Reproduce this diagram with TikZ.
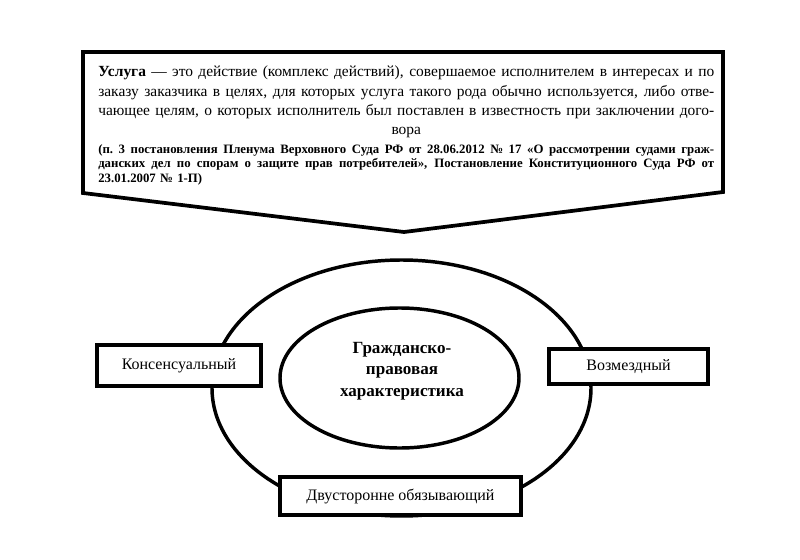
\documentclass[tikz,border=0pt]{standalone}
\usepackage{fontspec}
\setmainfont{Liberation Serif}
\usetikzlibrary{shapes.geometric}
\newcommand\pxu{0.75pt}
\newcommand\fullline[1]{\leavevmode{\spaceskip=0.25em plus 1fil minus 0.06em\xspaceskip=\spaceskip\hbox to\linewidth{#1}}}
\tikzset{
  x=0.75pt, y=-0.75pt,
  thickline/.style={line width=2.8pt, line join=miter},
  ring/.style={ellipse, draw, line width=2.6pt, inner sep=0pt},
  labelbox/.style={rectangle, draw, fill=white, line width=2.8pt, inner sep=0pt,
    font=\fontsize{12}{14}\selectfont},
  deftext/.style={anchor=north west, inner sep=0pt, text width=462pt, align=left},
}
\begin{document}
\begin{tikzpicture}
\useasboundingbox (0,0) rectangle (800,560);
% arrow-shaped definition box
\coordinate (tl) at (83,52);
\coordinate (tr) at (723,52);
\coordinate (br) at (723,192);
\coordinate (tip) at (404,232);
\coordinate (bl) at (83,193);
\draw[thickline] (tl) -- (tr) -- (br) -- (tip) -- (bl) -- cycle;
\node[deftext, font=\fontsize{11.6}{14.5}\selectfont] (def) at (98,66) {%
\fullline{\textbf{Услуга} — это действие (комплекс действий), совершаемое исполнителем в интересах и по}\\
\fullline{заказу заказчика в целях, для которых услуга такого рода обычно используется, либо отве-}\\
\fullline{чающее целям, о которых исполнитель был поставлен в известность при заключении дого-}\\
\makebox[\linewidth][c]{вора}};
\node[deftext, font=\bfseries\fontsize{9.6}{10.9}\selectfont] (cite) at (98,144) {%
\fullline{(п. 3 постановления Пленума Верховного Суда РФ от 28.06.2012 № 17 «О рассмотрении судами граж-}\\
\fullline{данских дел по спорам о защите прав потребителей», Постановление Конституционного Суда РФ от}\\
23.01.2007 № 1-П)};
% ellipses
\node[ring, minimum width={379*\pxu}, minimum height={256*\pxu}] (outer) at (401.5,388) {};
\node[ring, minimum width={239*\pxu}, minimum height={140*\pxu}] (inner) at (399.5,378) {};
\node[font=\bfseries\fontsize{12.8}{16}\selectfont, align=center, inner sep=0pt] (core) at (402,371) {Гражданско-\\правовая\\характеристика};
% boxes
\node[labelbox, minimum width={164*\pxu}, minimum height={41*\pxu}] (kons) at (179,365.5) {Консенсуальный};
\node[labelbox, minimum width={159*\pxu}, minimum height={35*\pxu}] (vozm) at (628.5,366.5) {Возмездный};
\node[labelbox, minimum width={241*\pxu}, minimum height={38*\pxu}] (dvus) at (400.5,496) {Двусторонне обязывающий};
\end{tikzpicture}
\end{document}
